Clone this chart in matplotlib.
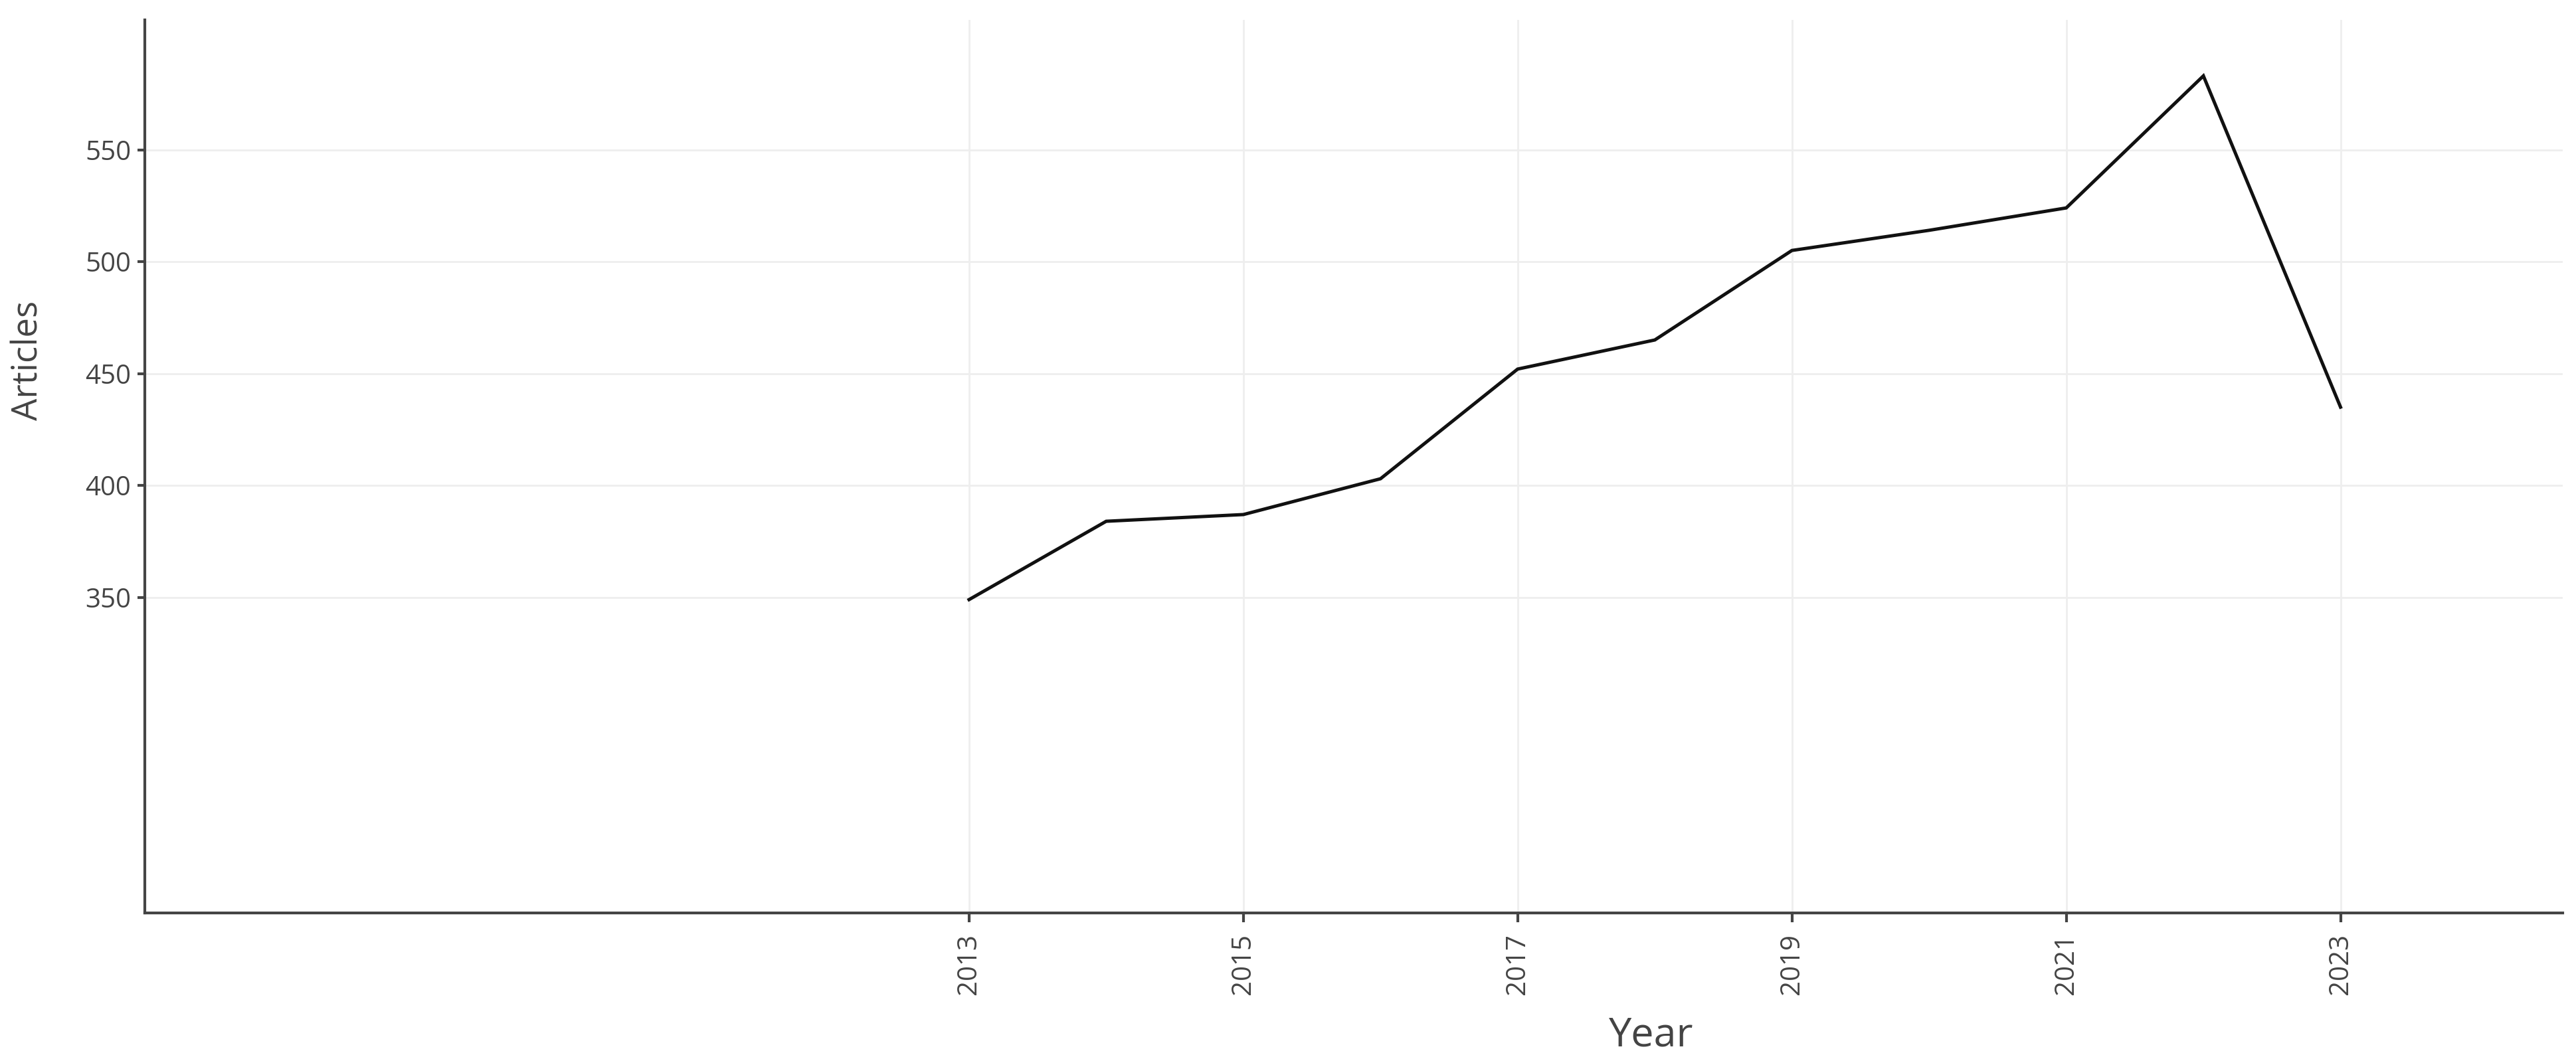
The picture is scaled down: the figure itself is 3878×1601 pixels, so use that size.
import matplotlib
matplotlib.use("Agg")
import matplotlib.pyplot as plt

years = [2013, 2014, 2015, 2016, 2017, 2018, 2019, 2020, 2021, 2022, 2023]
articles = [349, 384, 387, 403, 452, 465, 505, 514, 524, 583, 435]
x_ticks = [2013, 2015, 2017, 2019, 2021, 2023]
y_ticks = [350, 400, 450, 500, 550]

plt.rcParams['font.family'] = ['Open Sans', 'DejaVu Sans']

W, H = 3878, 1601
fig = plt.figure(figsize=(W / 100, H / 100), dpi=100)
ax = fig.add_axes([218 / W, 1 - 1375 / H, (3858 - 218) / W, (1375 - 30) / H])

ax.plot(years, articles, color='#111111', linewidth=3.6, solid_joinstyle='miter')

ax.set_xlim(2006.99, 2024.62)
ax.set_ylim(209, 608)
ax.set_xticks(x_ticks)
ax.set_xticklabels([str(t) for t in x_ticks], rotation=90)
ax.set_yticks(y_ticks)

ax.grid(True, color='#eeeeee', linewidth=2.0)
ax.set_axisbelow(True)
for s in ['top', 'right']:
    ax.spines[s].set_visible(False)
for s in ['left', 'bottom']:
    ax.spines[s].set_color('#444444')
    ax.spines[s].set_linewidth(3)

ax.tick_params(axis='both', colors='#444444', labelsize=29, width=3)
ax.tick_params(axis='x', length=10, pad=12)
ax.tick_params(axis='y', length=8, pad=7)

fig.text(2486 / W, 1 - 1575 / H, 'Year', fontsize=44, color='#444444',
         ha='center', va='baseline')
fig.text(43 / W, 1 - 543 / H, 'Articles', fontsize=38, color='#444444',
         ha='center', va='center', rotation=90)

fig.savefig('out.png', dpi=100, facecolor='white')
